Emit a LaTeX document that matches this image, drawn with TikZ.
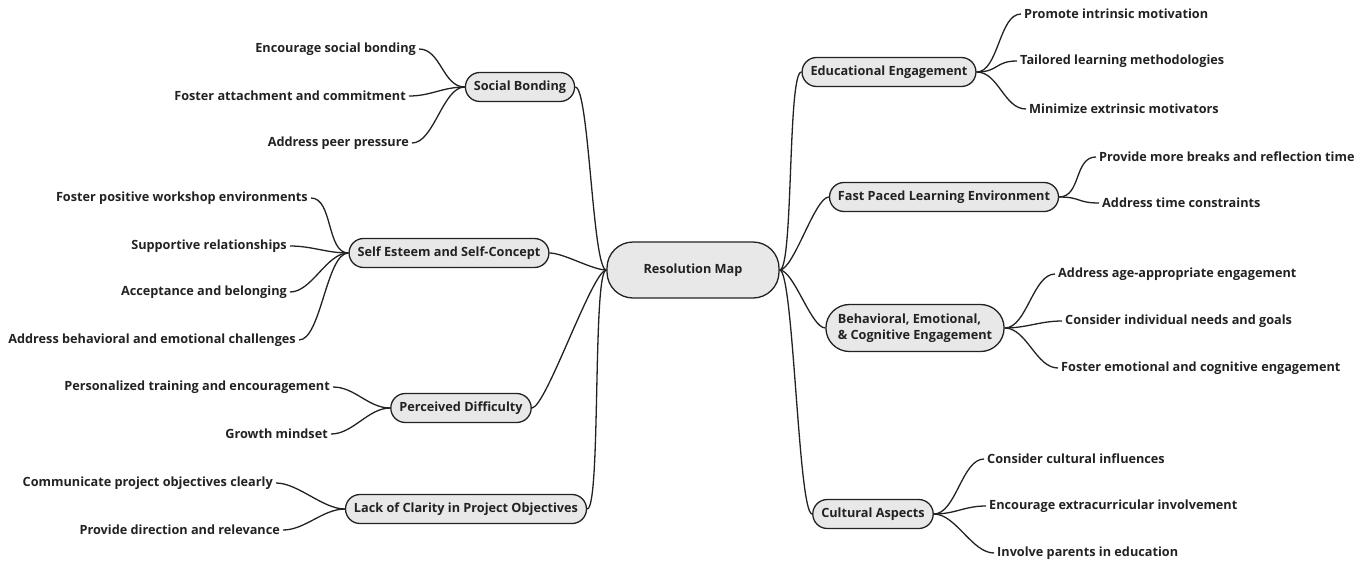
\documentclass[tikz,border=0pt]{standalone}
\usepackage{fontspec}
\setmainfont{Open Sans}
\usetikzlibrary{shapes.misc}
\definecolor{ink}{HTML}{222222}
\definecolor{boxfill}{HTML}{E8E8E8}
\begin{document}
\begin{tikzpicture}[x=1pt,y=-1pt,
  every node/.style={font=\fontsize{12.7}{15.5}\selectfont\bfseries, text=ink},
  branch/.style={draw=ink, line width=1.3pt, fill=boxfill, rounded rectangle, minimum height=29pt, inner xsep=7pt, inner ysep=3pt},
  rootbox/.style={draw=ink, line width=1.3pt, fill=boxfill, rounded corners=26pt, minimum height=56pt, minimum width=172pt},
  leafL/.style={anchor=east, inner sep=3pt},
  leafR/.style={anchor=west, inner sep=3pt},
  conn/.style={draw=ink, line width=1.3pt}]
\useasboundingbox (0,0) rectangle (1360,568);

\node[rootbox] (root) at (693,270) {Resolution Map};

% left branches
\node[branch] (sb) at (520,87) {Social Bonding};
\node[branch] (se) at (449,253) {Self Esteem and Self-Concept};
\node[branch] (pd) at (461,408) {Perceived Difficulty};
\node[branch] (lc) at (466,509) {Lack of Clarity in Project Objectives};

% right branches
\node[branch] (ee) at (889,72) {Educational Engagement};
\node[branch] (fp) at (944,197) {Fast Paced Learning Environment};
\node[branch, align=left, minimum height=47pt] (be) at (915,328) {Behavioral, Emotional,\\\& Cognitive Engagement};
\node[branch] (ca) at (873,514) {Cultural Aspects};

% left leaves
\node[leafL] (sb1) at (419,49) {Encourage social bonding};
\node[leafL] (sb2) at (409,96) {Foster attachment and commitment};
\node[leafL] (sb3) at (412,143) {Address peer pressure};

\node[leafL] (se1) at (311,198) {Foster positive workshop environments};
\node[leafL] (se2) at (290,246) {Supportive relationships};
\node[leafL] (se3) at (290,292) {Acceptance and belonging};
\node[leafL] (se4) at (299,340) {Address behavioral and emotional challenges};

\node[leafL] (pd1) at (333,387) {Personalized training and encouragement};
\node[leafL] (pd2) at (331,434) {Growth mindset};

\node[leafL] (lc1) at (276,483) {Communicate project objectives clearly};
\node[leafL] (lc2) at (283,530) {Provide direction and relevance};

% right leaves
\node[leafR] (ee1) at (1021,14) {Promote intrinsic motivation};
\node[leafR] (ee2) at (1017,61) {Tailored learning methodologies};
\node[leafR] (ee3) at (1026,109) {Minimize extrinsic motivators};

\node[leafR] (fp1) at (1096,157) {Provide more breaks and reflection time};
\node[leafR] (fp2) at (1099,203) {Address time constraints};

\node[leafR] (be1) at (1055,274) {Address age-appropriate engagement};
\node[leafR] (be2) at (1062,321) {Consider individual needs and goals};
\node[leafR] (be3) at (1058,368) {Foster emotional and cognitive engagement};

\node[leafR] (ca1) at (984,459) {Consider cultural influences};
\node[leafR] (ca2) at (986,506) {Encourage extracurricular involvement};
\node[leafR] (ca3) at (994,553) {Involve parents in education};

% root connectors
\foreach \c in {sb,se,pd,lc}
  \draw[conn] (root.west) .. controls +(-14,0) and +(14,0) .. (\c.east);
\foreach \c in {ee,fp,be,ca}
  \draw[conn] (root.east) .. controls +(14,0) and +(-14,0) .. (\c.west);

% left leaf connectors
\foreach \p/\c in {sb/sb1,sb/sb2,sb/sb3,se/se1,se/se2,se/se3,se/se4,pd/pd1,pd/pd2,lc/lc1,lc/lc2}
  \draw[conn] (\p.west) .. controls +(-22,0) and +(22,0) .. (\c.east);
% right leaf connectors
\foreach \p/\c in {ee/ee1,ee/ee2,ee/ee3,fp/fp1,fp/fp2,be/be1,be/be2,be/be3,ca/ca1,ca/ca2,ca/ca3}
  \draw[conn] (\p.east) .. controls +(22,0) and +(-22,0) .. (\c.west);
\end{tikzpicture}
\end{document}
